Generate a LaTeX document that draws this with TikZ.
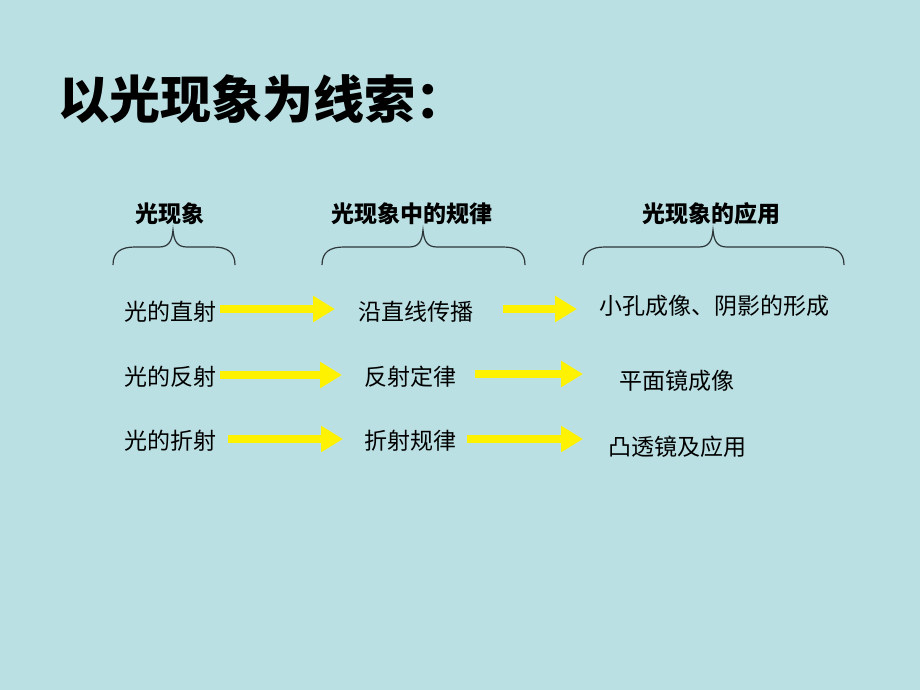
\documentclass[tikz,border=0pt]{standalone}
\usepackage{fontspec}
\newfontfamily\cjk{Noto Sans CJK SC}
\usetikzlibrary{arrows.meta}
\definecolor{bg}{RGB}{187,224,227}
\definecolor{brc}{RGB}{45,55,58}
\begin{document}
\begin{tikzpicture}[x=1pt,y=-1pt,
  title/.style={font=\cjk\bfseries\fontsize{51}{56}\selectfont, anchor=west, inner sep=0pt},
  head/.style={font=\cjk\bfseries\fontsize{23}{26}\selectfont, inner sep=0pt},
  txt/.style={font=\cjk\fontsize{23}{26}\selectfont, inner sep=0pt},
  yarrow/.style={draw=yellow, line width=8pt, -{Triangle[length=22pt,width=25pt]}},
  bracepath/.style={draw=brc, line width=1.2pt}]
\fill[bg] (0,0) rectangle (920,690);
\useasboundingbox (0,0) rectangle (920,690);

\node[title] (title) at (58,99) {以光现象为线索：};

\node[head] (h1) at (170,214) {光现象};
\node[head] (h2) at (412,214) {光现象中的规律};
\node[head] (h3) at (711,214) {光现象的应用};

% braces: left, tip, right
\foreach \l/\t/\r in {113/173/235, 322/423/525, 583/713/844}{
  \draw[bracepath] (\l,265) .. controls (\l,252) and (\l+8,247) .. (\l+22,247)
    -- (\t-14,247) .. controls (\t-4,247) and (\t-1,241) .. (\t,230)
    .. controls (\t+1,241) and (\t+4,247) .. (\t+14,247)
    -- (\r-22,247) .. controls (\r-8,247) and (\r,252) .. (\r,265);
}

\node[txt] (l1) at (170,312) {光的直射};
\node[txt] (l2) at (170,377) {光的反射};
\node[txt] (l3) at (170,441) {光的折射};
\node[txt] (m1) at (416,312) {沿直线传播};
\node[txt] (m2) at (410,377) {反射定律};
\node[txt] (m3) at (410,441) {折射规律};
\node[txt] (r1) at (714,306) {小孔成像、阴影的形成};
\node[txt] (r2) at (677,381) {平面镜成像};
\node[txt] (r3) at (677,447) {凸透镜及应用};

\coordinate (a1s) at (220,309); \coordinate (a1e) at (335,309);
\coordinate (b1s) at (503,309); \coordinate (b1e) at (577,309);
\coordinate (a2s) at (220,375); \coordinate (a2e) at (342,375);
\coordinate (b2s) at (475,374); \coordinate (b2e) at (583,374);
\coordinate (a3s) at (228,439); \coordinate (a3e) at (343,439);
\coordinate (b3s) at (467,439); \coordinate (b3e) at (583,439);

\foreach \s/\e in {a1s/a1e,b1s/b1e,a2s/a2e,b2s/b2e,a3s/a3e,b3s/b3e}
  \draw[yarrow] (\s) -- (\e);
\end{tikzpicture}
\end{document}
